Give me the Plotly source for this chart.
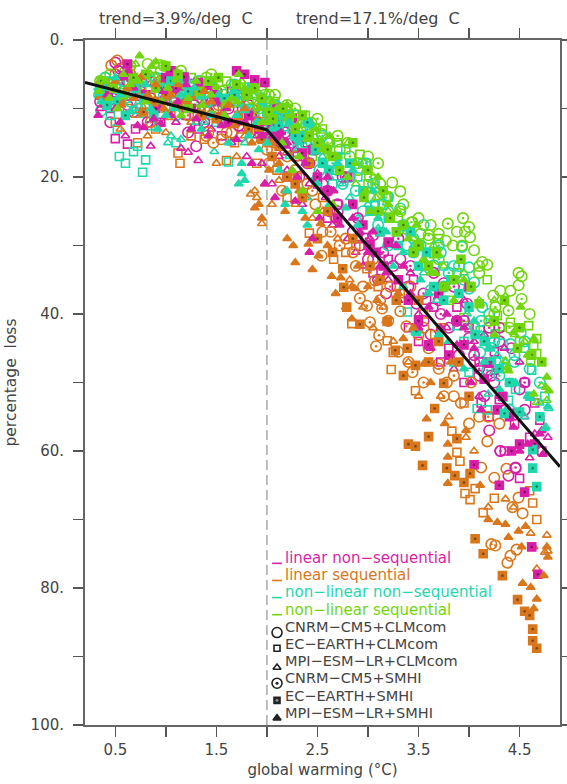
import plotly.graph_objects as go

MAGENTA = "#d81fa8"; ORANGE = "#d9771c"; TEAL = "#1fd8ac"; GREEN = "#72d60e"; INK = "#444444"
DARK = {MAGENTA: "#7c1060", ORANGE: "#7c4210", TEAL: "#108062", GREEN: "#3f7a08"}

x_ticks = [0.5, 1, 1.5, 2, 2.5, 3, 3.5, 4, 4.5]
x_labels = ["0.5", "", "1.5", "", "2.5", "", "3.5", "", "4.5"]
y_ticks = [0, 10, 20, 30, 40, 50, 60, 70, 80, 90, 100]
y_labels = ["0.", "", "20.", "", "40.", "", "60.", "", "80.", "", "100."]
trend_x = [0.2, 2.0, 4.9]
trend_y = [6.2, 13.1, 62.3]

# linear non-sequential (magenta)
ln_cc = [(.38,7.5),(.5,3.3),(.55,4.2),(.62,9.5),(.7,6),(.85,8.5),(.95,11),(1.1,7),(1.22,13.5),(1.3,15.5),(1.5,10),(1.7,8),(1.82,9.5),(1.95,11),(2.1,12.5),(2.25,15),(2.4,18),(2.55,21),(2.7,24),(2.85,28),(3.0,32),(3.1,35),(3.25,33),(3.4,36),(3.55,41),(3.7,38),(3.8,42),(3.9,46),(4.0,43.5),(4.05,47),(4.15,52),(4.25,50),(4.31,60),(4.39,63.6),(4.2,57),(4.5,51),(4.42,45),(4.46,62.5),
         (.45,12),(.68,10.5),(.8,5.5),(1.0,8.5),(1.25,6.5),(1.42,10.5),(1.6,12),(1.75,14),(2.05,14),(2.18,16),(2.32,20),(2.48,16),(2.62,25),(2.78,20),(2.92,30),(3.05,28.5),(3.18,37),(3.32,32),(3.48,38.5),(3.62,43),(3.75,35.5),(3.88,41),(3.98,38.5),(4.1,49),(4.3,44),(4.55,54)]
ln_ec = [(.45,10),(.5,14.4),(.7,13),(.62,15.2),(.95,12),(1.2,11),(1.45,9),(1.65,7.5),(1.85,11),(2.1,13.5),(2.3,17),(2.5,21),(2.7,24),(2.9,29),(3.05,34),(3.2,32),(3.4,42),(3.5,44),(3.65,39),(3.8,45),(3.95,50),(4.1,47),(4.2,55),(4.3,52.5),(4.35,60),(4.45,56),(4.5,64),(4.6,58),(4.65,53),(4.7,55.5),(4.72,60),(4.12,53),
         (.35,8),(.55,7),(.85,6),(1.08,9),(1.32,13),(1.55,14),(1.75,10),(1.98,13),(2.15,15),(2.2,20),(2.4,15),(2.6,26),(2.8,20),(3.0,30),(3.12,28),(3.28,36),(3.45,35),(3.58,38),(3.72,47),(3.88,39),(4.0,42),(4.25,45.5),(4.4,54.5),(4.55,50)]
ln_mc = [(.35,10),(.6,14),(.85,15.5),(1.15,15.8),(1.22,16.4),(1.32,17.6),(1.45,13),(1.65,15),(1.8,17),(1.95,18),(2.05,21),(2.2,19),(2.35,24),(2.5,19.5),(2.65,27),(2.8,29),(2.95,33),(3.1,31),(3.3,38),(3.5,40),(3.7,44),(3.85,48),(4.05,44),(4.25,48.5),(4.4,50),(4.55,55),(4.65,57.5),(4.78,58),(4.1,52),(4.6,61),
         (.48,8),(.72,8.5),(.98,9),(1.1,12),(1.38,9),(1.58,11),(1.72,12),(1.9,14),(2.02,14),(2.12,17),(2.28,16),(2.42,21),(2.58,23),(2.72,19),(2.88,31),(3.02,29),(3.2,35),(3.42,34),(3.6,37),(3.78,42),(3.95,38),(4.15,43),(4.35,45),(4.5,47),(4.6,52)]
ln_cs = [(.42,8),(.53,4.5),(.75,7.5),(.9,9.5),(1.15,8),(1.38,12),(1.62,10),(1.9,12),(2.1,11.5),(2.3,14.5),(2.6,22),(2.9,26),(3.15,31),(3.3,29),(3.55,37),(3.72,40),(3.85,36),(4.05,46),(4.22,49),(4.36,54),(4.31,60),(4.46,62.4),(4.2,42),(2.75,20),
         (.35,9),(.62,6),(.82,12),(1.05,6),(1.28,9.5),(1.5,7.5),(1.72,12.5),(2.0,13),(2.18,13.5),(2.42,18),(2.7,25),(2.98,29),(3.42,33),(3.65,34),(3.95,41),(4.1,48),(4.3,42),(4.55,50)]
ln_es = [(.58,5.2),(.62,3.5),(.8,8),(1.0,5.5),(1.05,4.5),(1.18,5.4),(1.32,6.2),(1.42,6.6),(1.55,9),(1.7,4.5),(1.78,5),(1.88,5.8),(1.98,6.2),(2.1,10),(2.25,11.5),(2.45,16),(2.6,22),(2.85,24),(3.15,33),(3.3,35),(3.5,41),(3.6,44.5),(3.8,46),(3.95,44.5),(4.05,62),(4.15,49.5),(4.3,65),(4.42,60),(4.55,66),(4.62,74),(4.68,78),(4.5,59),(4.28,54),(4.33,52),
         (.38,8),(.7,5.8),(.9,10),(1.1,7),(1.25,10),(1.48,8),(1.62,12),(1.82,11),(1.92,13),(2.05,13),(2.08,14.5),(2.12,13.5),(2.16,15),(2.35,16.5),(2.5,20),(2.7,26),(2.95,27),(3.02,30),(3.08,31),(3.2,29.5),(3.4,38),(3.7,37),(3.88,41),(4.0,36),(4.18,47),(4.4,55),(4.65,59)]
ln_ms = [(.33,11),(.42,8),(.55,12),(.63,4.5),(.72,12.5),(.88,11.5),(.95,12.2),(1.05,11),(1.2,6.5),(1.3,11.5),(1.42,14),(1.55,12.5),(1.7,14.5),(1.85,18),(1.98,21),(2.08,23),(2.1,14),(2.14,13.5),(2.28,23.5),(2.2,15),(2.45,29),(2.42,31),(2.6,20),(2.72,27),(2.92,28),(3.12,33),(3.28,30),(3.42,37),(3.5,42),(3.62,45),(3.78,40),(3.88,44.5),(4.02,50),(4.2,47.5),(4.12,54),(4.44,56.5),(4.58,59),(4.73,60.5),(4.72,57),(4.7,57.5),
         (.5,10),(.68,7),(.78,12.8),(.98,7.5),(1.12,9),(1.25,13),(1.5,9),(1.6,10),(1.78,12),(1.95,14),(2.02,13.5),(2.06,14),(2.1,15),(2.18,15.5),(2.3,20),(2.38,18),(2.52,26),(2.66,22),(2.85,26),(3.0,31),(3.05,28),(3.18,34),(3.35,33),(3.6,39),(3.72,42),(3.95,42),(4.05,45),(4.3,52),(4.5,60)]

# linear sequential (orange)
ls_cc = [(.36,6.5),(.46,3.7),(.52,3),(.68,8),(.9,6.5),(1.15,9.5),(1.4,14),(1.65,13.5),(1.85,14.5),(2.02,18),(2.2,17),(2.4,21),(2.55,28),(2.78,29),(2.95,36),(3.12,38),(3.3,45.5),(3.4,47),(3.55,42),(3.7,47.3),(3.85,52),(4.0,56),(4.18,58.6),(4.12,62.4),(4.25,63.9),(4.37,62.6),(4.49,66.8),(4.43,68.2),(4.53,69.1),(4.47,74.4),(4.41,75.3),(4.38,76.3),(4.3,56),
         (.5,5),(.75,10),(1.08,7),(1.3,8),(1.52,9.5),(1.72,9),(1.98,12),(2.08,15),(2.28,19),(2.48,24),(2.68,26),(2.88,33),(3.05,32),(3.2,41),(3.42,36),(3.6,45),(3.78,50),(3.92,53),(4.1,55)]
ls_ec = [(.5,12),(.72,15),(.9,13),(1.12,16.5),(1.14,18),(1.38,14.5),(1.6,17.6),(1.75,13),(1.9,18),(2.1,19),(2.42,28.2),(2.66,32),(2.84,41.4),(2.99,33.4),(3.19,43.9),(3.25,45.6),(3.23,48.1),(3.47,51.2),(3.83,57.1),(3.88,60.2),(3.91,61.5),(3.96,66.2),(4.01,67.1),(4.06,65.5),(4.14,69),(4.25,66.9),(4.6,65.8),(4.63,67.6),(4.67,70),(3.66,43),
         (.42,7),(.62,10),(.85,8),(1.05,11),(1.25,14),(1.48,10),(1.68,15),(1.85,12),(2.02,15),(2.2,23),(2.3,20),(2.55,23),(2.78,31),(2.88,30),(3.1,36),(3.32,37),(3.55,40),(3.72,42),(3.95,53)]
ls_mc = [(.38,9),(.55,13),(.82,14),(1.0,13.5),(1.25,12),(1.5,18),(1.7,17),(1.88,22),(1.95,26.8),(1.84,22.5),(1.9,23),(2.12,20.5),(2.28,24),(2.45,26),(2.7,29),(2.95,39),(3.05,42),(3.25,44),(3.5,52),(3.62,47),(3.97,58),(4.19,68.2),(4.36,67),(4.44,68.2),(4.61,72),(4.77,72.3),(4.64,74),(4.75,74.8),(4.78,74.6),(4.67,77.2),(3.8,55),
         (.45,6),(.7,11),(.92,9),(1.15,7),(1.35,10),(1.6,12),(1.78,14),(1.98,21),(2.05,24),(2.18,22),(2.38,23),(2.55,25),(2.82,35),(3.15,39),(3.4,47),(3.72,52),(4.05,60)]
ls_cs = [(.4,7),(.65,5),(.85,12),(1.02,9.5),(1.42,13.5),(1.47,15),(1.55,14.5),(1.6,13.5),(1.85,10),(2.0,16),(2.15,22),(2.54,31.5),(2.63,28),(2.92,37.7),(2.99,38.8),(3.02,41.2),(3.07,35.1),(3.08,44.7),(3.11,43.1),(3.14,39.2),(3.32,39.6),(3.38,41.8),(3.44,48.5),(3.55,50),(3.7,48),(4.19,55),(4.26,73.8),(4.22,73.6),(3.75,52),
         (.58,7.5),(.78,8),(.95,6),(1.22,11),(1.38,10),(1.72,8.5),(1.92,12),(2.1,13),(2.28,17),(2.45,22),(2.72,30),(2.85,31),(3.22,36),(3.5,43),(3.85,49),(4.02,50)]
ls_es = [(.55,9),(.78,10.5),(1.0,8),(1.25,8),(1.5,11.5),(1.72,11),(1.95,14.5),(2.2,20),(2.35,23),(2.5,29),(2.75,33.4),(2.76,36.1),(2.79,39),(2.92,41.5),(3.19,41.1),(3.27,45.3),(3.39,45),(3.47,47.5),(3.35,49),(3.6,47),(3.75,50.1),(3.66,53.8),(3.4,59),(3.47,59.3),(3.6,57.9),(3.54,62.1),(3.88,58.2),(3.78,62.5),(3.86,63.6),(4.01,63.3),(3.95,64.6),(4.06,72.8),(4.14,75),(4.33,78.2),(4.48,81.7),(4.55,83.4),(4.6,84),(4.63,86),(4.63,87.7),(4.67,88.8),
         (.35,8),(.48,7),(.68,6),(.88,9),(1.12,9.5),(1.35,11),(1.58,9),(1.82,13),(2.05,17),(2.12,15.5),(2.28,21),(2.42,18),(2.6,25),(2.65,31),(2.85,29),(3.02,33),(3.12,35),(3.28,38),(3.5,38),(3.7,44),(3.9,47),(4.0,52)]
ls_ms = [(.5,6),(.62,7),(.75,5.5),(.9,6.5),(1.05,8),(1.2,9),(1.38,7.5),(1.55,11),(1.68,12.5),(1.85,15),(2.02,19),(1.88,24.5),(1.92,24),(1.95,26),(2.2,29),(2.28,32.5),(2.26,30),(2.41,29.8),(2.51,31.5),(2.53,26.8),(2.64,34.5),(2.73,34.7),(2.78,39),(2.84,40.7),(2.84,36),(2.87,36.3),(3.09,38),(3.35,43.6),(3.55,47.3),(3.58,55.3),(3.76,56),(3.97,57),(3.79,59),(3.79,60.9),(3.79,64.7),(4.11,65),(4.19,70),(4.28,70.4),(4.36,70.7),(4.39,72.6),(4.49,71.7),(4.56,71),(4.52,74),(4.77,74),(4.78,75.5),(4.74,78.2),(4.53,79.3),(4.61,79.9),(4.67,81.6),(4.64,83),
         (.38,7),(.56,9.5),(.68,8.5),(.82,8),(.98,10),(1.12,6.5),(1.28,7),(1.45,9),(1.62,9.5),(1.78,10),(1.92,13),(2.05,15),(2.12,18),(2.18,25),(2.32,22),(2.38,26),(2.45,33.5),(2.6,30),(2.68,37),(2.9,33),(3.0,36),(3.18,41),(3.3,37),(3.45,42),(3.62,50),(3.82,47)]

# non-linear non-sequential (teal)
nn_cc = [(.34,8),(.36,10.3),(.45,6.5),(.6,8.5),(.8,10),(1.0,6.5),(1.2,9),(1.45,7),(1.7,9),(1.95,8.5),(2.1,9.8),(2.2,10.5),(2.35,13),(2.52,19),(2.7,19),(2.95,25),(3.1,27),(3.32,24.6),(3.45,29),(3.65,32.9),(3.75,36),(3.93,30.2),(4,33.2),(4.05,35.4),(4,36.3),(4.13,39),(4.51,42.7),(4.41,44.4),(4.33,44.4),(4.11,45.6),(4.26,46.8),(4.6,48),(4.4,54),
         (.5,8),(.7,7),(.9,5.5),(1.1,11),(1.32,6),(1.58,8),(1.82,7),(2.02,9),(2.15,12),(2.28,14),(2.45,16),(2.62,15),(2.82,20),(3.02,23),(3.2,25),(3.38,30),(3.55,27),(3.72,31),(3.85,33),(4.2,40),(4.45,47),(4.55,44)]
nn_ec = [(.45,11),(.52,13),(.54,17),(.6,18),(.68,16.3),(.72,15.5),(.85,12.5),(.8,17.5),(1.1,15),(.77,19.3),(1.3,10),(1.5,12),(1.62,17.8),(1.95,12.5),(2.1,14),(2.3,15.5),(2.65,21),(2.9,20),(3.07,24),(3.07,24.2),(3.39,39.7),(3.47,42.4),(3.88,41.7),(4,48.5),(4.11,42.4),(4.26,42.9),(4.21,44.8),(4.62,48.2),(4.46,51),(4.34,52.1),(4.08,53.8),(4.18,54),(4.39,52.6),
         (.4,6),(.65,7.5),(.92,5.5),(1.18,8),(1.4,9),(1.72,9),(1.88,11),(2.02,11),(2.18,12),(2.25,13),(2.42,12.5),(2.55,16),(2.78,16),(2.95,18),(3.2,23),(3.3,28),(3.58,31),(3.75,33),(3.95,44),(4.3,47),(4.55,45),(4.75,52)]
nn_mc = [(.33,7),(.45,9),(.7,10),(.88,9),(1.05,14),(1.15,14.5),(1.02,15),(1.3,12),(1.48,16.3),(1.55,12),(1.78,15),(1.92,12),(2.05,14),(2.22,17),(2.4,23),(2.55,17),(2.75,21),(2.9,26),(3.1,27.5),(3.35,36),(3.55,34),(3.85,47.3),(3.98,41.9),(3.98,40),(4.19,51.7),(4.36,47),(4.55,55),(4.76,56.5),(4.79,53.8),(4.7,53),
         (.55,6),(.78,11),(1.0,8),(1.22,6),(1.38,12),(1.68,7.5),(1.85,10),(2.0,13),(2.12,15),(2.3,16),(2.48,20),(2.62,20),(2.82,23),(3.0,24),(3.2,30),(3.45,30),(3.68,38),(4.12,43),(4.28,46)]
nn_cs = [(.4,5.5),(.58,6),(.72,10),(.98,8),(1.18,5.5),(1.42,9),(1.68,6.5),(1.9,8),(2.08,9.5),(2.28,11),(2.44,15),(2.65,18),(2.88,22),(3.05,21),(3.2,30),(3.45,31),(3.62,36.5),(3.8,34),(3.95,35),(4.18,48.2),(4.12,41),(4.3,49),(4.45,46),(4.7,50),
         (.5,7),(.65,9),(.85,6),(1.1,9),(1.3,7.5),(1.55,9),(1.78,8),(2.02,10),(2.18,12.5),(2.38,15),(2.55,14),(2.75,21),(2.98,18),(3.15,24),(3.35,27),(3.52,30),(3.7,30),(3.9,33),(4.25,44)]
nn_es = [(.42,9.5),(.6,11),(.78,8.5),(.95,7),(1.12,6),(1.35,8),(1.58,8.5),(1.85,7),(2.0,10.5),(2.18,11),(2.35,14),(2.55,18),(2.7,17),(2.95,22),(3.12,28),(3.3,30),(3.5,33),(3.48,42.5),(3.65,36),(3.75,38),(3.9,37),(4.06,43),(4.22,47),(4.4,50),(4.5,54.3),(4.35,54.5),(4.63,59.8),(4.63,62.5),(4.67,65.2),(4.6,52),(4.7,55),
         (.35,7.5),(.52,9),(.7,7),(.88,11),(1.05,6),(1.22,7.5),(1.45,6),(1.68,8),(1.78,10),(1.95,9),(2.08,11),(2.12,12.5),(2.28,14),(2.4,12),(2.48,16),(2.62,19),(2.82,18),(3.02,25),(3.2,26),(3.42,28),(3.58,31),(3.82,35),(4,39),(4.15,44),(4.3,48)]
nn_ms = [(.36,9),(.5,5.5),(.65,10.5),(.8,6.5),(.92,13),(1.08,10),(1.28,7),(1.45,11),(1.62,15),(1.75,18),(1.75,19.5),(1.78,20.5),(1.72,21),(1.92,16),(2.05,13),(2.2,22),(2.35,25),(2.4,27),(2.45,12.5),(2.62,24),(2.78,24.5),(2.9,27),(3.1,26),(3.25,33),(3.52,35),(3.7,43),(3.95,48),(4.2,45),(4.3,51),(4.46,50),(4.58,52),(4.75,56.7),(4.78,53.5),
         (.4,7),(.55,8),(.72,6),(.85,10),(1.0,11),(1.15,8),(1.35,13),(1.52,8),(1.7,11),(1.82,14),(1.9,12),(2.0,15),(2.12,19),(2.18,24),(2.22,12),(2.32,15),(2.5,21),(2.7,18),(2.85,19),(3.05,22),(3.18,28),(3.35,31),(3.6,37),(3.8,44),(4.05,41),(4.15,47)]

# non-linear sequential (green)
ns_cc = [(.4,5.5),(.6,4.5),(.82,3.5),(.95,4.5),(1.05,6),(1.3,9),(1.5,8),(1.8,8),(1.95,7.5),(2.1,10),(2.3,11),(2.44,12.1),(2.54,13.7),(2.72,16),(2.9,19),(3.24,20.8),(3.32,22.1),(3.2,22.9),(3.44,26.6),(3.52,28.3),(3.6,29),(3.7,28.3),(3.77,29.3),(3.88,28),(4.01,28.8),(4.05,30.7),(4.13,32.4),(4.18,32.8),(4.49,34),(4.52,34.5),(4.49,35.8),(4.31,36.6),(4.24,37.3),(4.41,36.6),
         (.5,8),(.72,6),(1.15,4.5),(1.4,5.5),(1.65,6.5),(2.02,8),(2.2,9.5),(2.38,14),(2.6,14.5),(2.8,15),(3.0,17),(3.12,21),(3.35,24),(3.5,26),(3.62,27),(3.84,30),(3.96,28),(4.1,34),(4.25,40),(4.6,40)]
ns_ec = [(.55,6.5),(.8,8),(1.0,10),(1.25,5.5),(1.45,11),(1.72,7),(1.9,9),(2.02,9),(2.12,11),(2.3,12),(2.45,17),(2.92,16.7),(3.0,21),(3.07,20.3),(3.07,21.7),(3.3,26),(3.65,31.2),(3.8,38),(3.95,40.5),(4.06,41.9),(4.28,40.2),(4.33,41.9),(4.41,41.2),(4.59,41.7),(4.67,43.6),(4.67,45.8),(4.61,46.8),(4.64,44.6),
         (.4,9),(.65,4.5),(.92,3.5),(1.1,7),(1.35,8.5),(1.6,6),(1.82,10),(2.08,9),(2.2,10),(2.38,11),(2.55,13),(2.7,15),(2.82,18),(2.98,18),(3.18,23),(3.42,28),(3.55,33),(3.7,29),(3.88,34),(4.18,35),(4.5,44)]
ns_mc = [(.38,6),(.52,7.5),(.7,3.5),(.85,5),(1.02,9),(1.2,7),(1.4,6),(1.6,10),(1.75,6),(1.95,9.5),(2.12,10.5),(2.32,13),(2.52,14.5),(2.7,18),(2.88,21),(3.08,23),(3.38,28),(3.55,32),(3.75,33),(3.9,37),(4.1,38),(4.36,46.8),(4.55,44),(4.67,52.9),(4.77,52.6),(4.72,50.5),
         (.45,7),(.62,5),(.78,9),(.95,6),(1.1,4.5),(1.3,10),(1.5,8.5),(1.68,8),(1.85,11),(2.05,12),(2.22,10),(2.42,12),(2.62,17),(2.8,15),(2.98,19),(3.2,25),(3.45,29),(3.65,30),(3.95,34),(4.25,38),(4.45,43)]
ns_cs = [(.45,5),(.65,3.8),(.88,5.5),(1.08,7.5),(1.35,6),(1.55,7.5),(1.85,8.5),(1.98,8),(2.18,10),(2.36,12),(2.6,15),(2.82,17),(3.02,20),(3.18,23),(3.43,26.6),(3.6,28.5),(3.79,26.8),(3.94,26),(4,27.3),(3.93,30),(4.26,39),(4.39,39.5),(4.52,37.8),(4.2,41),(2.5,11.5),
         (.35,6),(.55,9),(.75,7),(.98,3.8),(1.2,9.5),(1.45,5),(1.68,9),(1.92,10),(2.08,8),(2.28,10),(2.48,13),(2.7,14),(2.9,18),(3.1,18),(3.32,25),(3.5,30),(3.7,32),(4.1,33),(4.4,42)]
ns_es = [(.48,7),(.68,5.5),(.9,7),(1.12,5),(1.33,7.5),(1.52,5.5),(1.7,6.5),(1.88,7),(2.02,10.5),(2.16,10),(2.28,13),(2.42,14),(2.6,16),(2.72,19),(2.96,23),(3.1,25),(3.22,26),(3.35,27),(3.5,30),(3.6,33),(3.75,36),(3.92,32),(4.1,38.5),(4.25,41),(4.5,42),(4.62,46),
         (.36,6),(.58,8),(.8,5),(1.0,3.8),(1.22,10),(1.42,6),(1.6,9.5),(1.8,8),(1.95,8.5),(2.06,11.5),(2.22,11.5),(2.35,11),(2.5,15),(2.65,17),(2.85,15),(3.0,19),(3.15,22),(3.28,28),(3.45,31),(3.68,31),(3.85,35),(4.02,36),(4.35,38),(4.48,45),(4.72,47)]
ns_ms = [(.34,7.5),(.44,8.5),(.58,5),(.74,2.3),(.72,6),(.86,3.8),(.96,9),(1.1,5.8),(1.22,8.5),(1.36,9.5),(1.5,6.8),(1.65,8.5),(1.78,7),(1.92,10),(1.72,5),(2.0,12),(2.1,10),(2.15,15),(2.25,11),(2.25,19),(2.4,14.5),(2.55,16),(2.65,24),(2.8,20),(2.98,22),(3.02,25),(3.2,24),(3.4,29),(3.56,32.2),(3.67,34.1),(3.85,38),(4.11,38.5),(4.38,47.8),(4.39,48.3),(4.44,42.7),(4.51,39),(4.64,43.6),(4.64,51.7),(4.77,49.2),(4.76,50.7),(4.79,51.2),
         (.4,6),(.52,10),(.65,6.5),(.8,9),(.9,3.2),(1.02,7),(1.15,11),(1.3,6),(1.45,8),(1.58,11),(1.7,9),(1.85,7.5),(1.95,12),(2.05,9),(2.2,9.5),(2.3,12.5),(2.35,22),(2.32,17),(2.48,13),(2.5,25),(2.62,14),(2.7,17),(2.88,18),(3.1,20),(3.28,25),(3.48,27),(3.62,34),(3.78,36),(3.95,35),(4.25,43),(4.58,46)]

legend_labels = ["linear non\u2212sequential", "linear sequential", "non\u2212linear non\u2212sequential", "non\u2212linear sequential",
                 "CNRM\u2212CM5+CLMcom", "EC\u2212EARTH+CLMcom", "MPI\u2212ESM\u2212LR+CLMcom", "CNRM\u2212CM5+SMHI", "EC\u2212EARTH+SMHI", "MPI\u2212ESM\u2212LR+SMHI"]
legend_colors = [MAGENTA, ORANGE, TEAL, GREEN, INK, INK, INK, INK, INK, INK]
key_x = 2.1
key_y = [76.4, 78.9, 81.4, 83.9, 86.5, 88.8, 91.6, 93.9, 96.4, 99]
key_symbols = ["line-ew", "line-ew", "line-ew", "line-ew", "circle-open", "square-open", "triangle-up-open", "circle-open", "square", "triangle-up"]
key_sizes = [7, 7, 7, 7, 10, 6, 7, 10, 6, 7]

STYLES = [("circle-open", 10.5, False), ("square-open", 8, False), ("triangle-up-open", 7.5, False),
          ("circle-open", 10.5, True), ("square", 8, True), ("triangle-up", 7.5, False)]
SERIES = [[ln_cc, ln_ec, ln_mc, ln_cs, ln_es, ln_ms],
          [ls_cc, ls_ec, ls_mc, ls_cs, ls_es, ls_ms],
          [nn_cc, nn_ec, nn_mc, nn_cs, nn_es, nn_ms],
          [ns_cc, ns_ec, ns_mc, ns_cs, ns_es, ns_ms]]
COLORS = [MAGENTA, ORANGE, TEAL, GREEN]
FONT = "DejaVu Sans"
W, H, L, R, T, B = 567, 784, 85, 560, 39.5, 725

fig = go.Figure()
for m, (symbol, size, dotted) in enumerate(STYLES):
    for row, color in zip(SERIES, COLORS):
        pts = row[m]
        xs = [p[0] for p in pts]; ys = [p[1] for p in pts]
        fig.add_trace(go.Scatter(x=xs, y=ys, mode="markers", hoverinfo="skip",
                                 marker=dict(symbol=symbol, size=size, color=color, line=dict(color=color, width=1.6))))
        if dotted:
            fig.add_trace(go.Scatter(x=xs, y=ys, mode="markers", hoverinfo="skip",
                                     marker=dict(symbol="circle", size=2.6, color=DARK[color] if m == 4 else color)))
fig.add_trace(go.Scatter(x=trend_x, y=trend_y, mode="lines", line=dict(color="#111111", width=3), hoverinfo="skip"))

for i, yk in enumerate(key_y):
    c = "#222222" if i >= 4 else legend_colors[i]
    fig.add_trace(go.Scatter(x=[key_x], y=[yk], mode="markers", hoverinfo="skip",
                             marker=dict(symbol=key_symbols[i], size=key_sizes[i], color=c, line=dict(color=c, width=1.6))))
    if i in (7, 8):
        fig.add_trace(go.Scatter(x=[key_x], y=[yk], mode="markers", hoverinfo="skip",
                                 marker=dict(symbol="circle", size=3, color="#222222" if i == 7 else "#888888")))

fig.update_layout(width=W, height=H, autosize=False, margin=dict(l=L, r=W-R, t=T, b=H-B, pad=0, autoexpand=False),
                  paper_bgcolor="white", plot_bgcolor="white", showlegend=False, font=dict(family=FONT, color=INK, size=15))
ax = dict(showgrid=False, zeroline=False, showline=True, linecolor="#666666", linewidth=2, mirror="ticks",
          ticks="outside", tickcolor="#555555", tickwidth=1.5, ticklen=10, tickfont=dict(size=15, family=FONT, color=INK))
fig.update_xaxes(range=[0.2, 4.9], tickmode="array", tickvals=x_ticks, ticktext=x_labels,
                 title=dict(text="global warming (\u00b0C)", standoff=6, font=dict(size=15, family=FONT, color=INK)), **ax)
fig.update_yaxes(range=[100, 0], tickmode="array", tickvals=y_ticks, ticktext=y_labels, ticklabelstandoff=6,
                 title=dict(text="percentage\u00a0 loss", standoff=10, font=dict(size=15.5, family=FONT, color=INK)), **ax)
fig.add_shape(type="line", x0=2, x1=2, y0=0, y1=100, line=dict(color="#aaaaaa", width=1.5, dash="10px,5px"), layer="below")
for txt, cx in [("trend=3.9%/deg\u00a0 C", 176), ("trend=17.1%/deg\u00a0 C", 378)]:
    fig.add_annotation(text=txt, xref="paper", yref="paper", x=(cx-L)/(R-L), y=(B-18)/(B-T), showarrow=False,
                       xanchor="center", yanchor="middle", font=dict(size=16, family=FONT, color=INK))
for i, (t, c) in enumerate(zip(legend_labels, legend_colors)):
    fig.add_annotation(text=t, xref="paper", yref="paper", x=(283-L)/(R-L), y=(B-(558+i*17.2))/(B-T), xanchor="left",
                       yanchor="middle", showarrow=False, font=dict(size=15 if i < 4 else 14.5, family=FONT, color=c))
fig.write_html("out.html", post_script="document.body.style.margin='0';",
               config={"responsive": False, "displayModeBar": False, "staticPlot": True})
